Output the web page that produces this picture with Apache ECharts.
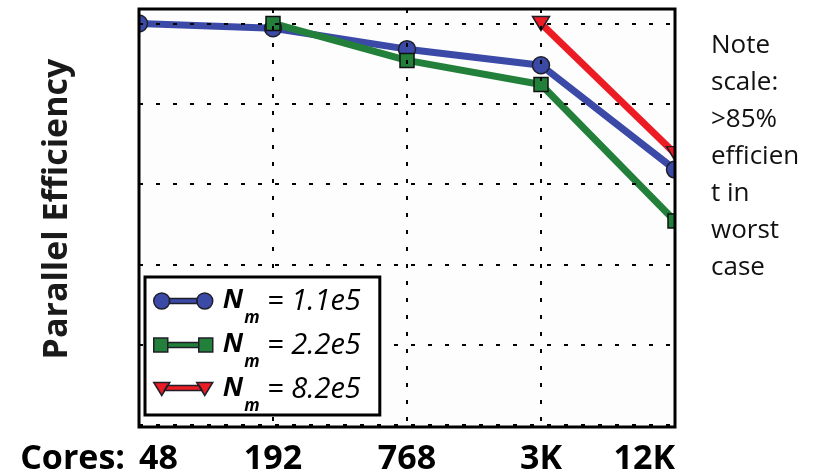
<!DOCTYPE html>
<html>
<head>
<meta charset="utf-8">
<script src="https://cdn.jsdelivr.net/npm/echarts@6/dist/echarts.min.js"></script>
<style>
  html, body { margin: 0; padding: 0; background: #fff; }
  #chart { width: 817px; height: 476px; }
</style>
</head>
<body>
<div id="chart"></div>
<script>
// categories (cores)
const cores = ["48", "192", "768", "3K", "12K"];
// parallel efficiency per mesh size
const nm11 = [1.0, 0.997, 0.984, 0.974, 0.909];
const nm22 = [null, 1.0, 0.977, 0.962, 0.877];
const nm82 = [null, null, null, 1.0, 0.919];
const names = ["N_m = 1.1e5", "N_m = 2.2e5", "N_m = 8.2e5"];
const noteLines = ["Note", "scale:", ">85%", "efficien", "t in", "worst", "case"];

const blue = "#3b4aa7";
const green = "#23803b";
const red = "#ec1c24";
const edge = "#1f1f2a";
const font = "Open Sans";

var myChart = echarts.init(document.getElementById("chart"));

myChart.setOption({
  animation: false,
  title: {
    text: noteLines.join("\n"),
    left: 711,
    top: 27,
    padding: 0,
    textStyle: {
      fontFamily: font,
      fontSize: 26,
      fontWeight: "normal",
      color: "#111",
      lineHeight: 37,
    },
  },
  grid: {
    left: 139,
    right: 142,
    top: 9,
    bottom: 49,
    show: true,
    backgroundColor: "#fdfdfd",
    borderWidth: 0,
  },
  legend: {
    orient: "vertical",
    left: 145,
    top: 277,
    padding: [10, 19, 0, 8],
    backgroundColor: "#fff",
    borderColor: "#000",
    borderWidth: 3,
    itemWidth: 59,
    itemHeight: 16,
    itemGap: 4,
    itemStyle: { borderColor: edge, borderWidth: 1.5 },
    data: [
      { name: names[0], icon: "path://M0,8A8,8 0 1,1 16,8A8,8 0 1,1 0,8Z M15.6,5.5H43.4V10.5H15.6Z M43,8A8,8 0 1,1 59,8A8,8 0 1,1 43,8Z" },
      { name: names[1], icon: "path://M0,1H14V15H0Z M14,5.5H45V10.5H14Z M45,1H59V15H45Z" },
      { name: names[2], icon: "path://M0,1H16L8,14Z M13.5,4L45.5,4L48.5,9L10.5,9Z M43,1H59L51,14Z" },
    ],
    formatter: function (name) {
      return "{n|N}{m|m}{v| = " + name.split("= ")[1] + "}";
    },
    textStyle: {
      rich: {
        n: { fontFamily: font, fontSize: 27, fontWeight: "bold", fontStyle: "italic", color: "#000", lineHeight: 28, verticalAlign: "top", padding: [0, 0, 0, 5] },
        m: { fontFamily: font, fontSize: 17, fontWeight: "bold", fontStyle: "italic", color: "#000", lineHeight: 17, verticalAlign: "top", padding: [23, 0, 0, 1] },
        v: { fontFamily: font, fontSize: 29, fontStyle: "italic", color: "#000", lineHeight: 28, verticalAlign: "top" },
      },
    },
  },
  xAxis: {
    type: "category",
    data: cores,
    boundaryGap: false,
    z: 3,
    axisLine: { show: false },
    axisTick: { show: false },
    axisLabel: {
      margin: 17,
      fontFamily: font,
      fontSize: 34,
      fontWeight: "bold",
      color: "#000",
      alignMinLabel: "left",
      alignMaxLabel: "right",
    },
    splitLine: {
      show: true,
      lineStyle: { color: "#000", width: 2, type: [4, 13] },
    },
  },
  yAxis: {
    type: "value",
    min: 0.75,
    max: 1.009,
    interval: 0.05,
    z: 3,
    name: "Parallel Efficiency",
    nameLocation: "middle",
    nameGap: 65,
    nameTextStyle: {
      fontFamily: font,
      fontSize: 34,
      fontWeight: "bold",
      color: "#1a1a1a",
      padding: [0, 0, 0, 16],
    },
    axisLine: { show: false },
    axisTick: { show: false },
    axisLabel: { show: false },
    splitLine: {
      show: true,
      lineStyle: { color: "#000", width: 2, type: [4, 13] },
    },
  },
  // white masks clip the edge markers, then the black frame on top
  graphic: [
    { type: "rect", z: 2, shape: { x: 0, y: 0, width: 138, height: 432 }, style: { fill: "#fff" } },
    { type: "rect", z: 2, shape: { x: 676, y: 0, width: 30, height: 432 }, style: { fill: "#fff" } },
    { type: "rect", z: 2, shape: { x: 139, y: 9, width: 536, height: 418 }, style: { fill: null, stroke: "#000", lineWidth: 3 } },
    {
      type: "text", z: 3, x: 125, y: 459,
      style: { text: "Cores:", fontFamily: font, fontSize: 34, fontWeight: "bold", fill: "#000", align: "right", verticalAlign: "middle" },
    },
  ],
  series: [
    {
      name: names[0],
      type: "line",
      z: 1,
      data: nm11,
      symbol: "circle",
      symbolSize: 17,
      lineStyle: { color: blue, width: 7 },
      itemStyle: { color: blue, borderColor: edge, borderWidth: 1.5 },
    },
    {
      name: names[1],
      type: "line",
      z: 1,
      data: nm22,
      symbol: "rect",
      symbolSize: 14,
      lineStyle: { color: green, width: 7 },
      itemStyle: { color: green, borderColor: "#111", borderWidth: 1.5 },
    },
    {
      name: names[2],
      type: "line",
      z: 1,
      data: nm82,
      symbol: "triangle",
      symbolRotate: 180,
      symbolSize: [17, 14],
      lineStyle: { color: red, width: 7 },
      itemStyle: { color: red, borderColor: edge, borderWidth: 1.5 },
    },
  ],
});
</script>
</body>
</html>
